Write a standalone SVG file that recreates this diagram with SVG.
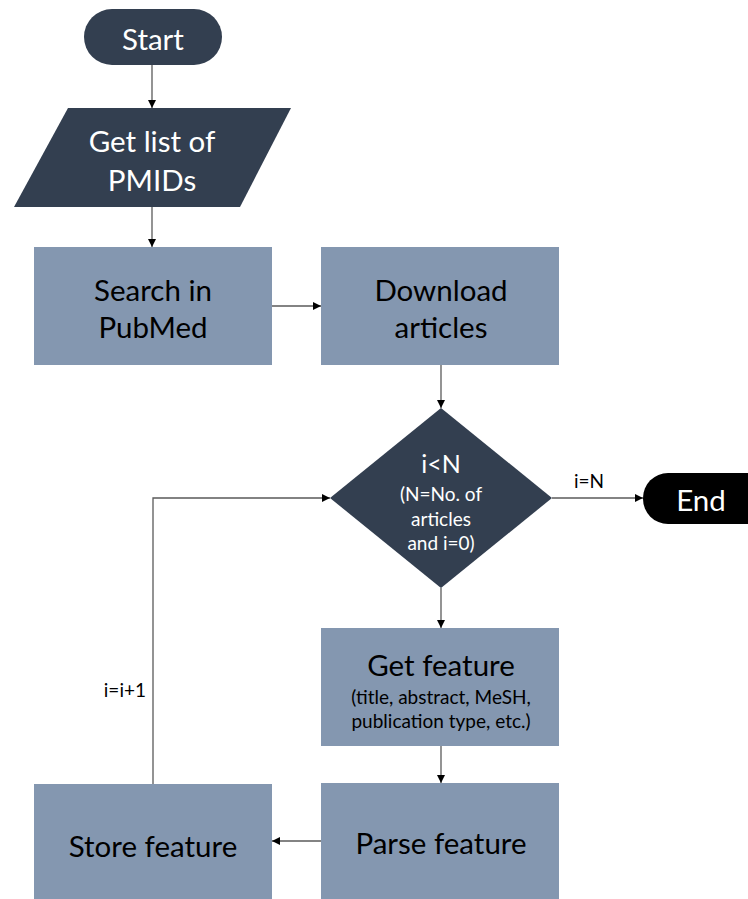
<svg xmlns="http://www.w3.org/2000/svg" width="748" height="899" viewBox="0 0 748 899">
  <style>
    text { font-family: Lato, "Open Sans", "Liberation Sans", sans-serif; text-anchor: middle; dominant-baseline: central; }
    .dark { fill: #333F50; }
    .box { fill: #8497B0; }
    .term-end { fill: #000000; }
    .w { fill: #FFFFFF; }
    .k { fill: #000000; }
    .big { font-size: 29.5px; }
    .mid { font-size: 25px; }
    .small { font-size: 19px; }
    .lbl { font-size: 19px; fill: #000000; }
    .conn { fill: none; stroke: #5a5a5a; stroke-width: 1.3; marker-end: url(#arrow); }
  </style>
  <defs>
    <marker id="arrow" viewBox="0 0 10 10" refX="10" refY="5" markerWidth="8" markerHeight="8" markerUnits="userSpaceOnUse" orient="auto">
      <path d="M0,0 L10,5 L0,10 z" fill="#000000"/>
    </marker>
  </defs>
  <rect width="748" height="899" fill="#FFFFFF"/>

  <g id="start">
    <rect class="dark" x="84" y="9" width="138" height="56" rx="28" ry="28"/>
    <text class="w big" x="153" y="38">Start</text>
  </g>

  <g id="get-pmids">
    <polygon class="dark" points="68,108 291,108 240,207 14,207"/>
    <text class="w big" x="152" y="140">Get list of</text>
    <text class="w big" x="152" y="179">PMIDs</text>
  </g>

  <g id="search-pubmed">
    <rect class="box" x="34" y="247" width="238" height="118"/>
    <text class="k big" x="153" y="289">Search in</text>
    <text class="k big" x="153" y="326">PubMed</text>
  </g>

  <g id="download-articles">
    <rect class="box" x="321" y="247" width="238" height="118"/>
    <text class="k big" x="441" y="289">Download</text>
    <text class="k big" x="441" y="326">articles</text>
  </g>

  <g id="loop-check">
    <polygon class="dark" points="441,408 552,498 441,588 330,498"/>
    <text class="w mid" x="441" y="463">i&lt;N</text>
    <text class="w small" x="441" y="493">(N=No. of</text>
    <text class="w small" x="441" y="518">articles</text>
    <text class="w small" x="441" y="542">and i=0)</text>
  </g>

  <g id="end">
    <rect class="term-end" x="643" y="473" width="135" height="51" rx="25" ry="25"/>
    <text class="w big" x="701" y="499">End</text>
  </g>

  <g id="get-feature">
    <rect class="box" x="321" y="628" width="238" height="118"/>
    <text class="k big" x="441" y="664">Get feature</text>
    <text class="k small" x="441" y="696">(title, abstract, MeSH,</text>
    <text class="k small" x="441" y="720">publication type, etc.)</text>
  </g>

  <g id="parse-feature">
    <rect class="box" x="321" y="783" width="238" height="120"/>
    <text class="k big" x="441" y="842">Parse feature</text>
  </g>

  <g id="store-feature">
    <rect class="box" x="34" y="784" width="238" height="119"/>
    <text class="k big" x="153" y="845">Store feature</text>
  </g>

  <g id="connectors">
    <line class="conn" x1="152" y1="65" x2="152" y2="108"/>
    <line class="conn" x1="152" y1="207" x2="152" y2="247"/>
    <line class="conn" x1="272" y1="306" x2="321" y2="306"/>
    <line class="conn" x1="441" y1="365" x2="441" y2="408"/>
    <line class="conn" x1="552" y1="498" x2="643" y2="498"/>
    <line class="conn" x1="441" y1="588" x2="441" y2="628"/>
    <line class="conn" x1="441" y1="746" x2="441" y2="783"/>
    <line class="conn" x1="321" y1="841" x2="272" y2="841"/>
    <polyline class="conn" points="153,784 153,498 330,498"/>
    <text class="lbl" x="589" y="480">i=N</text>
    <text class="lbl" x="146" y="689" style="text-anchor:end">i=i+1</text>
  </g>
</svg>
